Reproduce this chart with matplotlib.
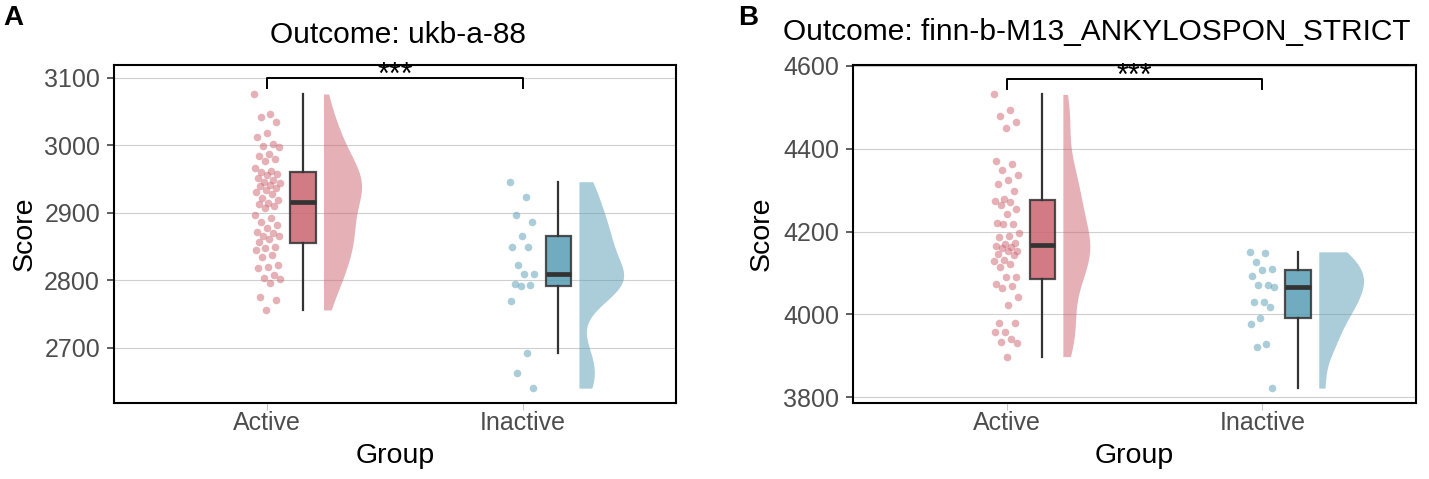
import numpy as np
import matplotlib
matplotlib.use('Agg')
import matplotlib.pyplot as plt

plt.rcParams['font.family'] = ['Liberation Sans', 'DejaVu Sans']

groups = ['Active', 'Inactive']

# panel A: ukb-a-88
a_active = [3076, 3046, 3042, 3035, 3018, 3012, 3002, 2999, 2997, 2987,
            2984, 2980, 2976, 2966, 2962, 2960, 2958, 2956, 2952, 2949,
            2946, 2944, 2941, 2939, 2937, 2934, 2931, 2928, 2922, 2919,
            2914, 2913, 2910, 2907, 2896, 2892, 2887, 2882, 2877, 2872,
            2870, 2866, 2865, 2861, 2857, 2849, 2848, 2845, 2838, 2834,
            2822, 2819, 2818, 2808, 2804, 2802, 2796, 2775, 2770, 2756]
a_inactive = [2946, 2923, 2896, 2887, 2866, 2849, 2849, 2823, 2809, 2809,
              2794, 2793, 2791, 2769, 2692, 2662, 2640]

# panel B: finn-b-M13_ANKYLOSPON_STRICT
b_active = [4531, 4494, 4480, 4465, 4450, 4370, 4362, 4349, 4336, 4324,
            4314, 4298, 4279, 4274, 4271, 4263, 4255, 4242, 4221, 4218,
            4218, 4196, 4189, 4187, 4173, 4171, 4166, 4163, 4159, 4153,
            4152, 4145, 4143, 4132, 4128, 4122, 4114, 4090, 4089, 4073,
            4068, 4063, 4042, 4022, 3979, 3978, 3958, 3957, 3940, 3933,
            3930, 3898]
b_inactive = [4151, 4149, 4126, 4110, 4108, 4093, 4072, 4070, 4067, 4030,
              4030, 4017, 3992, 3976, 3928, 3920, 3822]

a_ticks = [2700, 2800, 2900, 3000, 3100]
b_ticks = [3800, 4000, 4200, 4400, 4600]
titles = ['Outcome: ukb-a-88', 'Outcome: finn-b-M13_ANKYLOSPON_STRICT']
tags = ['A', 'B']
signif = '***'

colors = ['#CC6470', '#579DB4']
W, H = 1429, 479


def kde_nrd0(values, n=512):
    v = np.asarray(values, float)
    q1, q3 = np.percentile(v, [25, 75])
    bw = 0.9 * min(v.std(ddof=1), (q3 - q1) / 1.34) * len(v) ** -0.2
    grid = np.linspace(v.min(), v.max(), n)
    z = (grid[:, None] - v[None, :]) / bw
    dens = np.exp(-0.5 * z ** 2).sum(1) / (len(v) * bw * np.sqrt(2 * np.pi))
    return grid, dens


def draw_panel(ax, series, ylim, ticks, bracket_y, tip):
    dens = [kde_nrd0(s) for s in series]
    peak = max(d.max() for _, d in dens)
    for i, vals in enumerate(series):
        x = i + 1
        col = colors[i]
        grid, d = dens[i]
        ax.fill_betweenx(grid, x + 0.22, x + 0.22 + d / peak * 0.175,
                         color=col, alpha=0.5, lw=0, zorder=2)
        ax.boxplot(vals, positions=[x + 0.14], widths=0.1, showfliers=False,
                   showcaps=False, patch_artist=True, zorder=3,
                   boxprops=dict(facecolor=col, alpha=0.85, edgecolor='#333333', lw=1.6),
                   medianprops=dict(color='#333333', lw=3.4, solid_capstyle='butt'),
                   whiskerprops=dict(color='#333333', lw=1.6))
        n = len(vals)
        jit = ((np.arange(n) * 0.618034) % 1 - 0.5) * 0.1
        ax.scatter(x + jit, vals, s=30, color=col, alpha=0.5, lw=0, zorder=4)
    ax.plot([1, 1, 2, 2], [bracket_y - tip, bracket_y, bracket_y, bracket_y - tip],
            color='black', lw=1.4, zorder=5)
    ax.annotate(signif, (1.5, bracket_y), xytext=(0, -3.6), textcoords='offset points',
                ha='center', va='baseline', fontsize=22)
    ax.set_xlim(0.4, 2.6)
    ax.set_ylim(*ylim)
    ax.set_xticks([1, 2])
    ax.set_xticklabels(groups)
    ax.set_yticks(ticks)
    ax.grid(axis='y', color='#CFCFCF', lw=0.8)
    ax.set_axisbelow(True)
    for sp in ax.spines.values():
        sp.set_linewidth(1.5)
        sp.set_color('black')
    ax.tick_params(axis='y', labelsize=18, labelcolor='#4D4D4D', color='#333333',
                   length=5, width=1.1, pad=5)
    ax.tick_params(axis='x', labelsize=18, labelcolor='#4D4D4D', color='#C8C8C8',
                   length=5, width=0.8, pad=1)


fig = plt.figure(figsize=(W / 100, H / 100), dpi=100)
ax_a = fig.add_axes([114 / W, (H - 403) / H, (676 - 114) / W, (403 - 65) / H])
ax_b = fig.add_axes([853 / W, (H - 403) / H, (1416 - 853) / W, (403 - 65) / H])

draw_panel(ax_a, [a_active, a_inactive], (2618, 3119), a_ticks, 3099, 14)
draw_panel(ax_b, [b_active, b_inactive], (3786, 4602), b_ticks, 4567, 22)

fig.text(270 / W, 1 - 43 / H, titles[0], fontsize=21.5, va='baseline', ha='left')
fig.text(783 / W, 1 - 40 / H, titles[1], fontsize=21.5, va='baseline', ha='left')
fig.text(3 / W, 1 - 25 / H, tags[0], fontsize=20, fontweight='bold', va='baseline')
fig.text(738 / W, 1 - 25 / H, tags[1], fontsize=20, fontweight='bold', va='baseline')
for cx in (25, 762):
    fig.text(cx / W, 1 - 234 / H, 'Score', fontsize=20.5, rotation=90,
             ha='center', va='center')
for cx in (395, 1134):
    fig.text(cx / W, 1 - 456 / H, 'Group', fontsize=20.5, ha='center', va='center')

fig.savefig('out.png', dpi=100)
